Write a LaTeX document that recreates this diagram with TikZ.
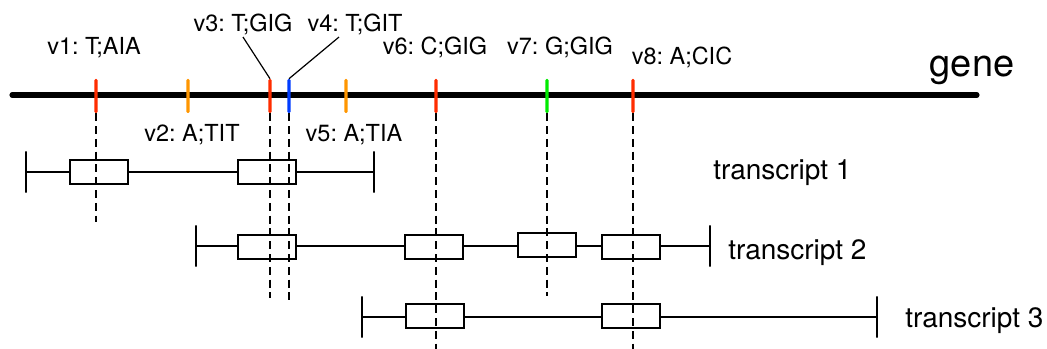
\documentclass[tikz,border=0pt]{standalone}
\usepackage{fontspec}
\setmainfont{TeX Gyre Heros}
\usepackage{xcolor}
\usepackage{tikz}
\usetikzlibrary{positioning}
\frenchspacing

\definecolor{snpred}{RGB}{255,45,0}
\definecolor{snporange}{RGB}{255,150,0}
\definecolor{snpblue}{RGB}{0,60,255}
\definecolor{snpgreen}{RGB}{0,235,0}

\begin{document}
\begin{tikzpicture}[
  x=0.75pt, y=-0.75pt,
  snp/.style={inner sep=0pt, minimum width=2.6pt, minimum height=25.5pt, rounded corners=1pt},
  vlabel/.style={anchor=base, inner sep=1pt, font=\fontsize{17.6}{21}\selectfont},
  tlabel/.style={anchor=base west, inner sep=0pt, font=\fontsize{21}{25}\selectfont},
  exon/.style={draw, fill=white, line width=1.4pt, inner sep=0pt, minimum width=43.6pt, minimum height=17.6pt},
  bound/.style={draw, line width=1.4pt, inner sep=0pt, minimum width=0pt, minimum height=31pt},
  intron/.style={line width=1.4pt},
  probe/.style={line width=1.4pt, dash pattern=on 6pt off 3.6pt},
  lead/.style={line width=0.9pt},
]
\useasboundingbox (0,0) rectangle (1047,349);

% gene with its variants
\coordinate (g0) at (12,95);
\coordinate (g1) at (977,95);
\draw[line width=3.8pt, line cap=round] (g0) -- (g1);
\node[font=\fontsize{28.5}{32}\selectfont, anchor=base] (gene) at (972,77) {gene};

\node[snp, fill=snpred]    (v1) at (96,96) {};
\node[snp, fill=snporange] (v2) at (188,96) {};
\node[snp, fill=snpred]    (v3) at (270,96) {};
\node[snp, fill=snpblue]   (v4) at (289,96) {};
\node[snp, fill=snporange] (v5) at (346,96) {};
\node[snp, fill=snpred]    (v6) at (436,96) {};
\node[snp, fill=snpgreen]  (v7) at (547,96) {};
\node[snp, fill=snpred]    (v8) at (633,96) {};

\node[vlabel] (v1lbl) at (94,55)  {v1: T;AIA};
\node[vlabel] (v2lbl) at (192,142) {v2: A;TIT};
\node[vlabel] (v3lbl) at (243,32) {v3: T;GIG};
\node[vlabel] (v4lbl) at (355,32) {v4: T;GIT};
\node[vlabel] (v5lbl) at (354,142) {v5: A;TIA};
\node[vlabel] (v6lbl) at (435,55) {v6: C;GIG};
\node[vlabel] (v7lbl) at (560,55) {v7: G;GIG};
\node[vlabel] (v8lbl) at (682,65) {v8: A;CIC};

\draw[lead] (v3lbl.south) -- (v3.north);
\draw[lead] (v4lbl.south) ++(-16,0) -- (v4.north);

% transcripts
\node[bound] (t1l) at (26,172) {};
\node[bound] (t1r) at (374,172) {};
\node[bound] (t2l) at (196,246) {};
\node[bound] (t2r) at (710,246) {};
\node[bound] (t3l) at (362,317) {};
\node[bound] (t3r) at (877,317) {};
\draw[intron] (t1l) -- (t1r);
\draw[intron] (t2l) -- (t2r);
\draw[intron] (t3l) -- (t3r);

\node[exon] (e11) at (99,172) {};
\node[exon] (e12) at (267,172) {};
\node[exon] (e21) at (267,247) {};
\node[exon] (e22) at (434,247) {};
\node[exon] (e23) at (547,245) {};
\node[exon] (e24) at (631,247) {};
\node[exon] (e31) at (435,316) {};
\node[exon] (e32) at (631,316) {};

\node[tlabel] (t1) at (713,180) {transcript 1};
\node[tlabel] (t2) at (728,260) {transcript 2};
\node[tlabel] (t3) at (905,327) {transcript 3};

% where each variant falls
\coordinate (p1) at (96,222);
\coordinate (p3) at (270,298);
\coordinate (p4) at (289,300);
\coordinate (p6) at (436,349);
\coordinate (p7) at (547,296);
\coordinate (p8) at (633,349);
\draw[probe] (v1.south) -- (p1);
\draw[probe] (v3.south) -- (p3);
\draw[probe] (v4.south) -- (p4);
\draw[probe] (v6.south) -- (p6);
\draw[probe] (v7.south) -- (p7);
\draw[probe] (v8.south) -- (p8);
\end{tikzpicture}
\end{document}
